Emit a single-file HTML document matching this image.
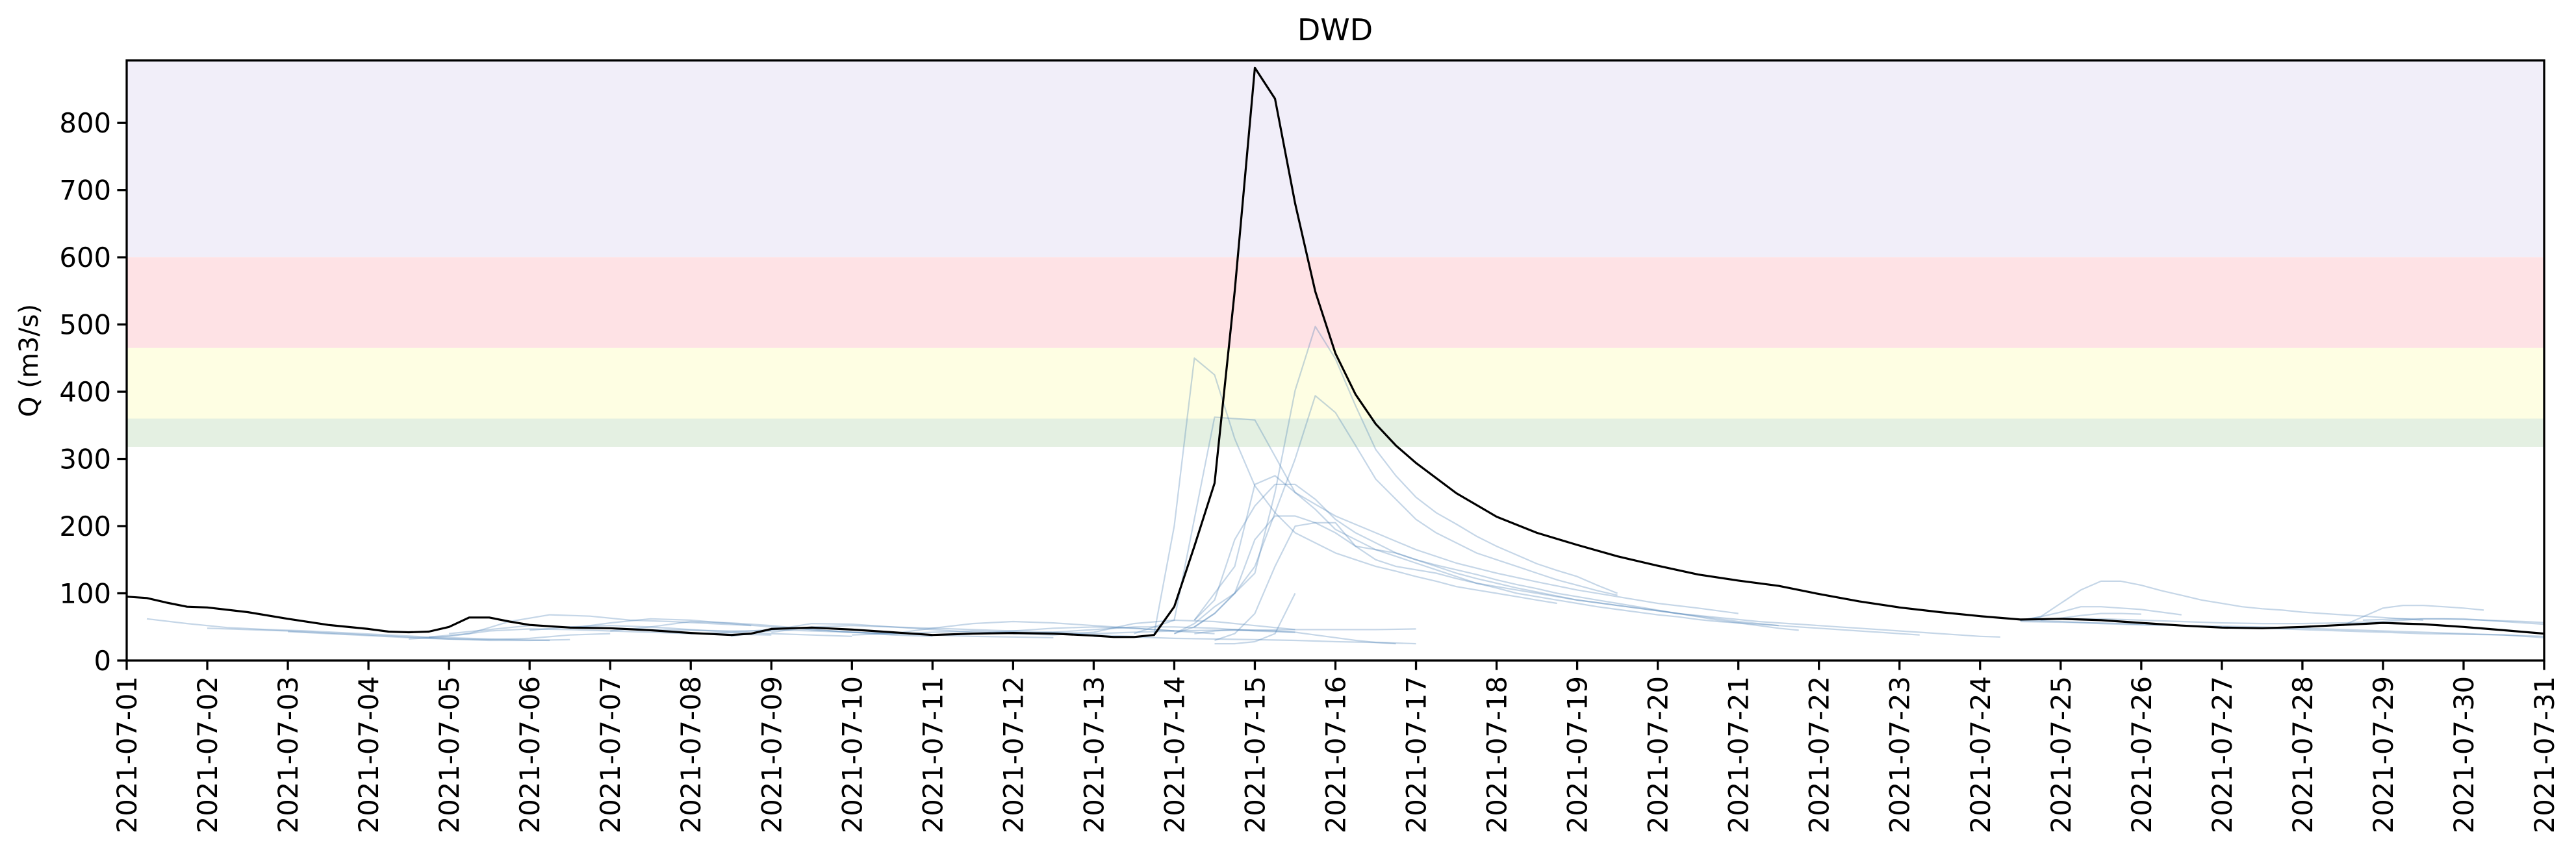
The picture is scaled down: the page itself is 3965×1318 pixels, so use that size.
<!DOCTYPE html>
<html><head><meta charset="utf-8"><style>
html,body{margin:0;padding:0;background:#fff;}
svg{display:block;font-family:"DejaVu Sans","Liberation Sans",sans-serif;}
</style></head><body>
<svg id="chart" width="3965" height="1318" viewBox="0 0 3965 1318" xmlns="http://www.w3.org/2000/svg">
<defs><clipPath id="plotclip"><rect x="195" y="93" width="3721" height="924"/></clipPath></defs>
<text x="2055" y="62" font-size="46" text-anchor="middle">DWD</text>
<text transform="translate(58,555) rotate(-90)" font-size="40" text-anchor="middle">Q (m3/s)</text>
<g id="bands"></g>
<g id="forecasts" clip-path="url(#plotclip)"></g>
<g id="observed" clip-path="url(#plotclip)"></g>
<g id="axes"></g>
</svg>
<script>
const bandLow = [600, 465, 360, 318];
const bandHigh = [893, 600, 465, 360];
const bandNames = ['band-extreme', 'band-high', 'band-medium', 'band-low'];
const bandColors = ['#f1eef9', '#fee2e5', '#fefee3', '#e4f0e2'];
const yTicks = [0, 100, 200, 300, 400, 500, 600, 700, 800];
const xTickDays = [];
for (let d = 1; d <= 31; d++) xTickDays.push(d);

const obsDays = [1,1.25,1.5,1.75,2,2.5,3,3.5,4,4.25,4.5,4.75,5,5.25,5.5,5.75,6,6.5,7,7.5,8,8.5,8.75,9,9.5,10,10.5,11,11.5,12,12.5,13,13.25,13.5,13.75,14,14.25,14.5,14.75,15,15.25,15.5,15.75,16,16.25,16.5,16.75,17,17.5,18,18.5,19,19.5,20,20.5,21,21.5,22,22.5,23,23.5,24,24.5,25,25.5,26,26.5,27,27.5,28,28.5,29,29.5,30,30.5,31];
const obsValues = [95,93,86,80,79,72,62,53,47,43,42,43,50,64,64,58,53,49,48,45,41,38,40,47,49,46,42,38,40,41,40,37,35,35,38,80,170,264,550,882,836,680,549,457,396,352,320,294,249,214,190,172,155,141,128,119,111,99,88,79,72,66,61,62,60,56,52,49,48,50,53,56,54,50,45,40];

const fcStart = [1.25,2,3,4.5,4.75,5,6,6.5,7,8,8.5,9,10,10.5,11,12,12.5,13,13,13.75,13.5,14,14,14.25,14.25,14.25,14.5,14.5,14.25,24.5,24.5,24.75,24.5,24.5,24.5,28.5,28.75];
const fcStep = [0.5,0.5,0.5,0.5,0.5,0.5,0.5,0.5,0.5,0.5,0.5,0.5,0.5,0.5,0.5,0.5,0.5,0.5,0.5,0.25,0.5,0.25,0.25,0.25,0.25,0.25,0.25,0.25,0.25,0.25,0.25,0.25,0.5,0.5,0.5,0.25,0.5];
const fcValues = [
 [62,55,49,46,44,41,38,35,33,31,30],
 [48,46,44,41,38,35,32,30,30,31],
 [43,40,37,34,32,31,33,38,40],
 [32,36,44,47,46,44,42,40,39,38],
 [35,40,58,68,66,60,58,55,52],
 [40,46,52,50,48,46,45,44,44],
 [45,50,52,50,46,42,40,38,36],
 [48,56,62,60,55,50,46,42,40],
 [44,50,58,56,52,46,42,38,36],
 [40,42,46,44,42,40,38,36,35,34],
 [36,45,55,54,50,46,42,40,38],
 [42,50,52,50,48,46,44,42,40],
 [38,40,42,44,42,40,38,36],
 [40,48,55,58,56,52,48,44],
 [38,40,44,48,50,48,44,40],
 [40,42,46,50,50,48,44,42],
 [38,42,55,60,58,52,46],
 [40,42,44,45,45,46,46,46,47],
 [36,35,33,32,31,30,28,27,25],
 [40,200,450,425,330,260,220,190,175,160,150,140,133,125,118,110,105,100,95,90,85],
 [40,60,362,358,250,215,190,165,145,130,117,105,95,85,78,70],
 [40,55,80,100,130,250,402,497,449,379,314,275,243,220,203,185,170,157,144,134,125,112,100],
 [40,50,70,100,140,220,300,394,369,320,270,240,210,190,175,160,150,140,130,120,112,104,97],
 [60,100,140,262,275,250,225,195,180,165,155,145,135,125,115,108,100,95,90,85,80,76,72,68,65,61,58,56,54,52,50,48,46,44,42,40,38],
 [60,90,180,230,262,262,240,210,190,175,160,150,140,130,122,115,108,102,96,90,86,82,78,74,70,67,64,61,58,56,54,52,50,48,46,44,42,40,38,36,35],
 [50,70,100,180,215,215,205,190,170,150,140,135,130,122,115,110,105,100,95,90,86,82,78,74,70,66,62,58,55,52],
 [30,40,70,140,200,205,205,170,165,160,150,142,135,128,120,113,107,100,95,90,85,80,75,70,65,60,56,52,48,45],
 [25,25,28,40,100],
 [40,44,46,45,44,42,38,34,30,27,25],
 [60,65,85,105,118,118,112,104,97,90,85,80,77,75,72,70,68,66,64,62,60],
 [60,65,72,80,80,78,76,72,68],
 [60,63,67,70,70,69],
 [60,62,62,60,58,56,55,55,56,58,62,62,58,54],
 [58,57,56,54,52,50,48,46,44,42,40,39,38,36],
 [60,58,55,53,52,51,50,48,46,44,42,40,38,34],
 [52,65,78,82,82,80,78,75],
 [60,62,62,60,58,55,52]
];

const L = 195, R = 3916, T = 93, B = 1017;
const day0 = 1, day1 = 31, yMax = 893;
function xs(d) { return L + (d - day0) / (day1 - day0) * (R - L); }
function ys(v) { return B - v / yMax * (B - T); }
const NS = 'http://www.w3.org/2000/svg';
function mk(tag, parent) { const e = document.createElementNS(NS, tag); parent.appendChild(e); return e; }

const gb = document.getElementById('bands');
for (let i = 0; i < bandLow.length; i++) {
  const r = mk('rect', gb);
  r.setAttribute('x', L); r.setAttribute('width', R - L);
  r.setAttribute('y', ys(bandHigh[i])); r.setAttribute('height', ys(bandLow[i]) - ys(bandHigh[i]));
  r.setAttribute('fill', bandColors[i]);
  
  
}

const gf = document.getElementById('forecasts');
for (let i = 0; i < fcValues.length; i++) {
  const pts = fcValues[i].map((v, k) => xs(fcStart[i] + k * fcStep[i]).toFixed(1) + ',' + ys(v).toFixed(1)).join(' ');
  const p = mk('polyline', gf);
  p.setAttribute('points', pts);
  p.setAttribute('fill', 'none');
  p.setAttribute('stroke', '#4a7fb5');
  p.setAttribute('stroke-opacity', '0.32');
  p.setAttribute('stroke-width', '2.2');
  p.setAttribute('stroke-linejoin', 'round');
  
  
}

const go = document.getElementById('observed');
const op = mk('polyline', go);
op.setAttribute('points', obsValues.map((v, k) => xs(obsDays[k]).toFixed(1) + ',' + ys(v).toFixed(1)).join(' '));
op.setAttribute('fill', 'none');
op.setAttribute('stroke', '#000');
op.setAttribute('stroke-width', '3.2');
op.setAttribute('stroke-linejoin', 'round');



const ga = document.getElementById('axes');
const frame = mk('rect', ga);
frame.setAttribute('x', L); frame.setAttribute('y', T);
frame.setAttribute('width', R - L); frame.setAttribute('height', B - T);
frame.setAttribute('fill', 'none'); frame.setAttribute('stroke', '#000'); frame.setAttribute('stroke-width', '3.3');



for (const v of yTicks) {
  const y = ys(v);
  const t = mk('line', ga);
  t.setAttribute('x1', L - 14.6); t.setAttribute('x2', L); t.setAttribute('y1', y); t.setAttribute('y2', y);
  t.setAttribute('stroke', '#000'); t.setAttribute('stroke-width', '3.3');
  
  
  const tx = mk('text', ga);
  tx.setAttribute('x', L - 24); tx.setAttribute('y', y + 15);
  tx.setAttribute('font-size', '41.7'); tx.setAttribute('text-anchor', 'end');
  tx.textContent = String(v);
  
  
}

for (const d of xTickDays) {
  const x = xs(d);
  const t = mk('line', ga);
  t.setAttribute('x1', x); t.setAttribute('x2', x); t.setAttribute('y1', B); t.setAttribute('y2', B + 14.6);
  t.setAttribute('stroke', '#000'); t.setAttribute('stroke-width', '3.3');
  
  
  const label = '2021-07-' + (d < 10 ? '0' + d : d);
  const tx = mk('text', ga);
  tx.setAttribute('transform', 'translate(' + (x + 15) + ',' + (B + 24) + ') rotate(-90)');
  tx.setAttribute('font-size', '41.7'); tx.setAttribute('text-anchor', 'end');
  tx.textContent = label;
  
  
}
</script>
</body></html>
